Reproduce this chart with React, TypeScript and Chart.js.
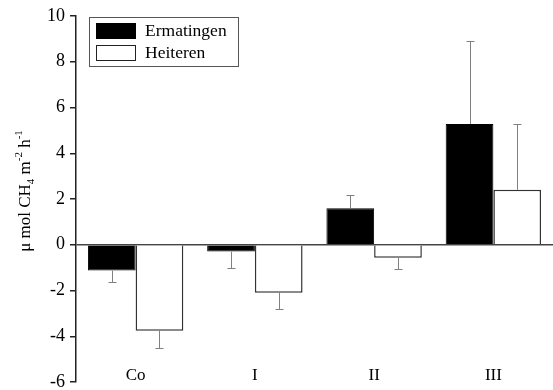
import React, { useEffect, useRef } from "react";
import { Chart, registerables } from "chart.js";

Chart.register(...registerables);

const categories = ["Co", "I", "II", "III"];
const seriesNames = ["Ermatingen", "Heiteren"];
const ermatingen = [-1.13, -0.3, 1.6, 5.28];
const heiteren = [-3.76, -2.1, -0.57, 2.4];
const ermatingenErr = [0.5, 0.7, 0.58, 3.62];
const heiterenErr = [0.74, 0.7, 0.48, 2.88];
const yTicks = [10, 8, 6, 4, 2, 0, -2, -4, -6];

const FONT = "'Liberation Serif', 'Times New Roman', serif";

const errorBars = {
  id: "errorBars",
  afterDatasetsDraw(chart: any) {
    const ctx = chart.ctx;
    const y = chart.scales.y;
    const errs = [ermatingenErr, heiterenErr];
    ctx.save();
    ctx.strokeStyle = "#808080";
    ctx.lineWidth = 1;
    chart.data.datasets.forEach((ds: any, di: number) => {
      const meta = chart.getDatasetMeta(di);
      meta.data.forEach((el: any, i: number) => {
        const v = ds.data[i];
        const e = errs[di][i];
        const end = v >= 0 ? v + e : v - e;
        const x = Math.round(el.x) + 0.5;
        const y0 = y.getPixelForValue(v);
        const y1 = Math.round(y.getPixelForValue(end)) + 0.5;
        ctx.beginPath();
        ctx.moveTo(x, y0);
        ctx.lineTo(x, y1);
        ctx.moveTo(x - 4, y1);
        ctx.lineTo(x + 4, y1);
        ctx.stroke();
      });
    });
    ctx.restore();
  },
};

const decorations = {
  id: "decorations",
  afterDraw(chart: any) {
    const ctx = chart.ctx;
    const xs = chart.scales.x;
    ctx.save();
    // Category labels (positions from the x scale)
    ctx.fillStyle = "#000";
    ctx.font = `17px ${FONT}`;
    ctx.textAlign = "center";
    ctx.textBaseline = "middle";
    categories.forEach((c, i) => {
      ctx.fillText(c, xs.getPixelForValue(i), 376);
    });

    // Legend
    ctx.strokeStyle = "#555";
    ctx.lineWidth = 1;
    ctx.strokeRect(89.5, 17.5, 149, 49);
    ctx.fillStyle = "#000";
    ctx.fillRect(96, 23, 40, 16);
    ctx.fillStyle = "#fff";
    ctx.fillRect(96, 45, 40, 16);
    ctx.strokeStyle = "#222";
    ctx.strokeRect(96.5, 45.5, 39, 15);
    ctx.fillStyle = "#000";
    ctx.font = `17.5px ${FONT}`;
    ctx.textBaseline = "middle";
    ctx.textAlign = "left";
    ctx.fillText(seriesNames[0], 145, 31);
    ctx.fillText(seriesNames[1], 145, 53);

    // Y axis title with sub/superscripts
    const parts: [string, number][] = [
      ["\u03bc mol CH", 0],
      ["4", 1],
      [" m", 0],
      ["-2", -1],
      [" h", 0],
      ["-1", -1],
    ];
    const big = `17px ${FONT}`;
    const small = `11px ${FONT}`;
    let total = 0;
    const widths = parts.map(([t, s]) => {
      ctx.font = s === 0 ? big : small;
      const w = ctx.measureText(t).width;
      total += w;
      return w;
    });
    ctx.translate(30, 191);
    ctx.rotate(-Math.PI / 2);
    ctx.textBaseline = "alphabetic";
    let x = -total / 2;
    parts.forEach(([t, s], i) => {
      ctx.font = s === 0 ? big : small;
      const dy = s === 1 ? 4 : s === -1 ? -8 : 0;
      ctx.fillText(t, x, dy);
      x += widths[i];
    });
    ctx.restore();
  },
};

export default function App() {
  const ref = useRef<HTMLCanvasElement>(null);
  useEffect(() => {
    if (!ref.current) return;
    const chart = new Chart(ref.current, {
      type: "bar",
      data: {
        labels: categories,
        datasets: [
          {
            label: seriesNames[0],
            data: ermatingen,
            backgroundColor: "#000",
            borderColor: "#000",
            borderWidth: 1,
            categoryPercentage: 0.8,
            barPercentage: 1.0,
          },
          {
            label: seriesNames[1],
            data: heiteren,
            backgroundColor: "#fff",
            borderColor: "#333",
            borderWidth: 1.5,
            categoryPercentage: 0.8,
            barPercentage: 1.0,
          },
        ],
      },
      options: {
        responsive: false,
        animation: false,
        layout: { padding: { top: 16, right: 0, bottom: 8, left: 0 } },
        plugins: {
          legend: { display: false },
          tooltip: { enabled: false },
        },
        scales: {
          x: {
            display: false,
          },
          y: {
            min: -6,
            max: 10,
            afterBuildTicks: (s: any) => {
              s.ticks = yTicks.map((v) => ({ value: v }));
            },
            afterFit: (s: any) => {
              s.width = 76;
              s.paddingTop = 0;
              s.paddingBottom = 0;
            },
            border: { display: true, color: "#222", width: 1.5 },
            grid: {
              drawOnChartArea: true,
              color: (c: any) => (c.tick && c.tick.value === 0 ? "#444" : "rgba(0,0,0,0)"),
              lineWidth: 1.5,
              tickColor: "#222",
              tickLength: 6,
              drawTicks: true,
            },
            ticks: {
              color: "#000",
              font: { family: FONT, size: 18 },
              padding: 5,
            },
          },
        },
      },
      plugins: [errorBars, decorations],
    });
    return () => chart.destroy();
  }, []);
  return (
    <canvas
      ref={ref}
      width={553}
      height={390}
      style={{ position: "fixed", left: 0, top: 0, width: 553, height: 390 }}
    />
  );
}
